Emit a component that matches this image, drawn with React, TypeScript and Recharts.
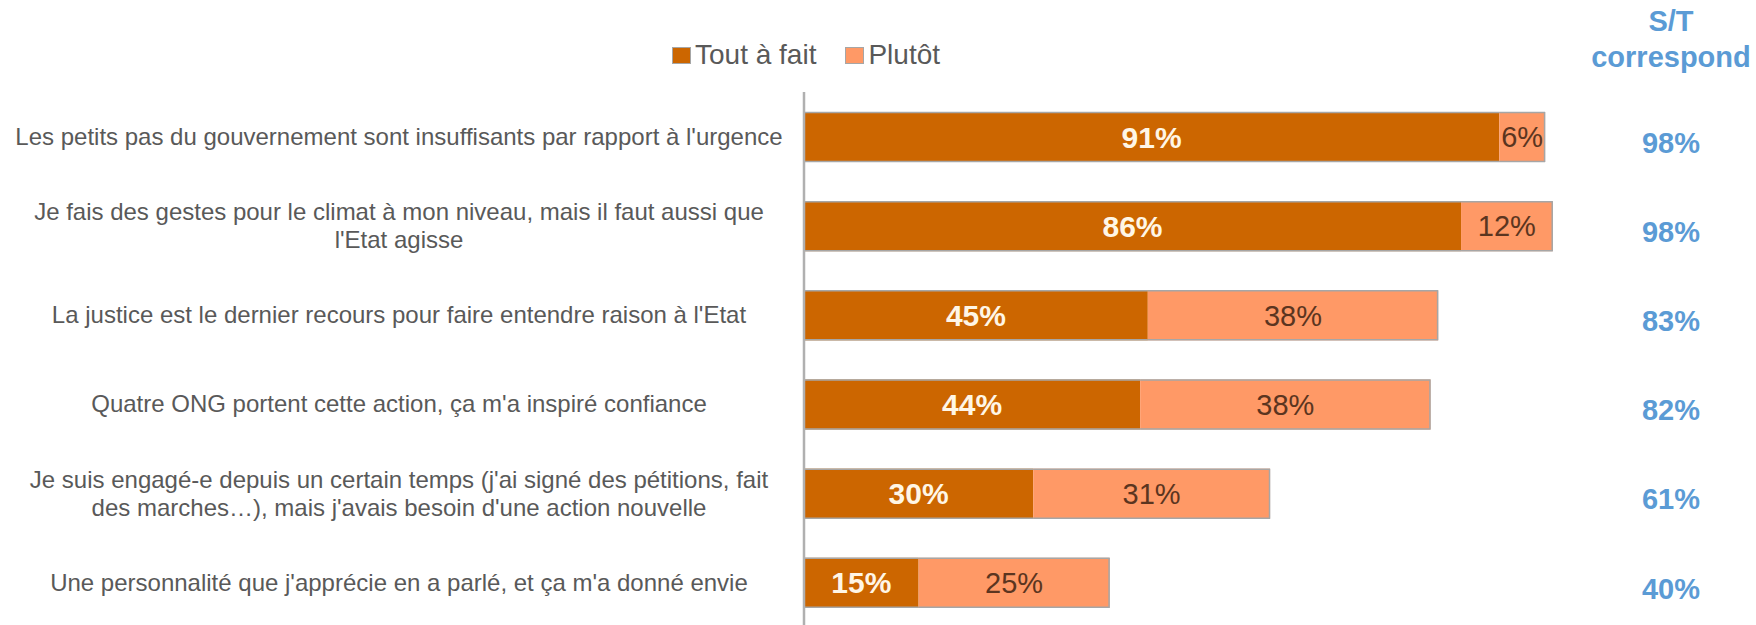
import React from 'react';
import { BarChart, Bar, XAxis, YAxis, Legend, LabelList } from 'recharts';

const CATEGORIES = [
  "Les petits pas du gouvernement sont insuffisants par rapport à l'urgence",
  "Je fais des gestes pour le climat à mon niveau, mais il faut aussi que\nl'Etat agisse",
  "La justice est le dernier recours pour faire entendre raison à l'Etat",
  "Quatre ONG portent cette action, ça m'a inspiré confiance",
  "Je suis engagé-e depuis un certain temps (j'ai signé des pétitions, fait\ndes marches…), mais j'avais besoin d'une action nouvelle",
  "Une personnalité que j'apprécie en a parlé, et ça m'a donné envie",
];
const SERIES = ['Tout à fait', 'Plutôt'];
const TOUT_A_FAIT = [91, 86, 45, 44, 30, 15];
const PLUTOT = [6, 12, 38, 38, 31, 25];
const SOUS_TOTAL = [98, 98, 83, 82, 61, 40];

const DARK = '#CC6600';
const LIGHT = '#FF9966';
const EDGE = '#A6A6A6';
const FONT = '"Liberation Sans", Arial, sans-serif';

const data = CATEGORIES.map((label, i) => ({
  label,
  tout: TOUT_A_FAIT[i],
  plutot: PLUTOT[i],
}));

function Segment(props: any) {
  const { x, y, width, height, fill, closeEnd } = props;
  const d =
    `M${x},${y + 0.5}H${x + width}M${x},${y + height - 0.5}H${x + width}` +
    (closeEnd ? `M${x + width - 0.5},${y}V${y + height}` : '');
  return (
    <g>
      <rect x={x} y={y} width={width} height={height} fill={fill} />
      <path d={d} stroke={EDGE} strokeWidth={1.5} fill="none" />
    </g>
  );
}

function CategoryTick({ x, y, payload }: any) {
  const lines = String(payload.value).split('\n');
  const lh = 28;
  const y0 = y - ((lines.length - 1) * lh) / 2;
  const cx = x - 405;
  return (
    <text textAnchor="middle" fill="#595959" fontSize={24} fontFamily={FONT}>
      {lines.map((l, i) => (
        <tspan key={i} x={cx} y={y0 + i * lh} dy="0.35em">{l}</tspan>
      ))}
    </text>
  );
}

function TotalTick({ x, y, payload }: any) {
  return (
    <text
      x={x + 103}
      y={y + 6}
      dy="0.35em"
      textAnchor="middle"
      fill="#5B9BD5"
      fontSize={29}
      fontWeight="bold"
      fontFamily={FONT}
    >
      {SOUS_TOTAL[payload.index]}%
    </text>
  );
}

function LegendContent({ payload }: any) {
  const items = [...(payload || [])].sort(
    (a: any, b: any) => SERIES.indexOf(a.value) - SERIES.indexOf(b.value),
  );
  return (
    <div style={{ display: 'flex', alignItems: 'center', gap: 29, fontFamily: FONT }}>
      {items.map((p: any) => (
        <div key={p.value} style={{ display: 'flex', alignItems: 'center' }}>
          <span
            style={{
              width: 19, height: 17, background: p.color,
              border: `1px solid ${EDGE}`, boxSizing: 'border-box', marginRight: 4,
            }}
          />
          <span style={{ fontSize: 28, color: '#595959', lineHeight: '34px' }}>{p.value}</span>
        </div>
      ))}
    </div>
  );
}

export default function App() {
  return (
    <div
      style={{
        position: 'absolute', left: 0, top: 0, width: 1756, height: 625,
        overflow: 'hidden', background: '#fff', fontFamily: FONT,
      }}
    >
      <div
        style={{
          position: 'absolute', left: 1586, top: 3, width: 170, textAlign: 'center',
          color: '#5B9BD5', fontSize: 29, fontWeight: 'bold', lineHeight: '36px',
        }}
      >
        S/T<br />correspond
      </div>
      <BarChart
        width={1756}
        height={627}
        layout="vertical"
        data={data}
        margin={{ top: 92, right: 0, bottom: 0, left: 0 }}
      >
        <XAxis type="number" domain={[0, 100]} hide />
        <YAxis
          yAxisId="left"
          type="category"
          dataKey="label"
          width={804}
          tickSize={0}
          tickMargin={0}
          tickLine={false}
          axisLine={{ stroke: '#B0B0B0', strokeWidth: 2.5 }}
          tick={<CategoryTick />}
          interval={0}
        />
        <YAxis
          yAxisId="right"
          orientation="right"
          type="category"
          dataKey="label"
          width={188}
          tickSize={0}
          tickMargin={0}
          tickLine={false}
          axisLine={false}
          tick={<TotalTick />}
          interval={0}
        />
        <Legend
          verticalAlign="middle"
          align="center"
          layout="horizontal"
          wrapperStyle={{ top: 38, left: 672, width: 'auto', height: 'auto' }}
          content={<LegendContent />}
        />
        <Bar
          yAxisId="left"
          dataKey="tout"
          name={SERIES[0]}
          stackId="a"
          fill={DARK}
          barSize={50}
          isAnimationActive={false}
          shape={(p: any) => <Segment {...p} />}
        >
          <LabelList
            dataKey="tout"
            position="center"
            formatter={(v: any) => `${v}%`}
            fill="#FFF6E6"
            fontSize={30}
            fontWeight="bold"
            fontFamily={FONT}
          />
        </Bar>
        <Bar
          yAxisId="left"
          dataKey="plutot"
          name={SERIES[1]}
          stackId="a"
          fill={LIGHT}
          barSize={50}
          isAnimationActive={false}
          shape={(p: any) => <Segment {...p} closeEnd />}
        >
          <LabelList
            dataKey="plutot"
            position="center"
            formatter={(v: any) => `${v}%`}
            fill="#5B3520"
            fontSize={29}
            fontFamily={FONT}
          />
        </Bar>
      </BarChart>
    </div>
  );
}
